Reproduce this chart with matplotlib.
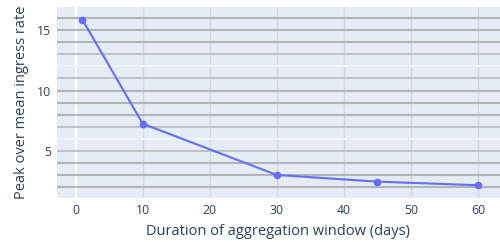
import matplotlib.pyplot as plt

# window duration (days) vs peak/mean ingress ratio
window_days = [1, 10, 30, 45, 60]
peak_over_mean = [15.85, 7.25, 3.02, 2.47, 2.17]

x_ticks = [0, 10, 20, 30, 40, 50, 60]
y_ticks = [5, 10, 15]
ref_levels = [2, 3, 4, 5, 6, 7, 8, 9, 10, 11, 12, 13, 14, 15, 16]
faint_levels = [6, 12]
light_levels = [5, 7, 11, 13]

plt.rcParams['font.family'] = ['Open Sans', 'DejaVu Sans']
txt = '#2a3f5f'

fig = plt.figure(figsize=(5, 2.42), dpi=100)
ax = fig.add_axes([0.114, 0.181, 0.886, 0.79])
ax.set_facecolor('#E5ECF6')

ax.set_xlim(-2.8, 63.3)
ax.set_ylim(1.1, 16.9)

# vertical grid
for x in x_ticks:
    if x == 0:
        ax.axvline(x, color='white', lw=1.6, zorder=1)
    else:
        ax.axvline(x, color='#d6d6d6', lw=1.0, zorder=1)

# horizontal reference lines
for y in ref_levels:
    if y in faint_levels:
        c = '#f0f3f8'
    elif y in light_levels:
        c = '#bfc2c7'
    else:
        c = '#b2b4b8'
    ax.axhline(y, color=c, lw=1.5, zorder=2)

ax.plot(window_days, peak_over_mean, color='#636EFA', lw=1.5, marker='o',
        markersize=4.5, zorder=3)

ax.set_xticks(x_ticks)
ax.set_yticks(y_ticks)
ax.tick_params(length=0, labelsize=8.8, colors=txt, pad=4)
for s in ax.spines.values():
    s.set_visible(False)

ax.set_xlabel("Duration of aggregation window (days)", fontsize=10.5, color=txt, labelpad=5)
ax.set_ylabel("Peak over mean ingress rate", fontsize=10.5, color=txt, labelpad=6)

fig.savefig("out.png", dpi=100)
